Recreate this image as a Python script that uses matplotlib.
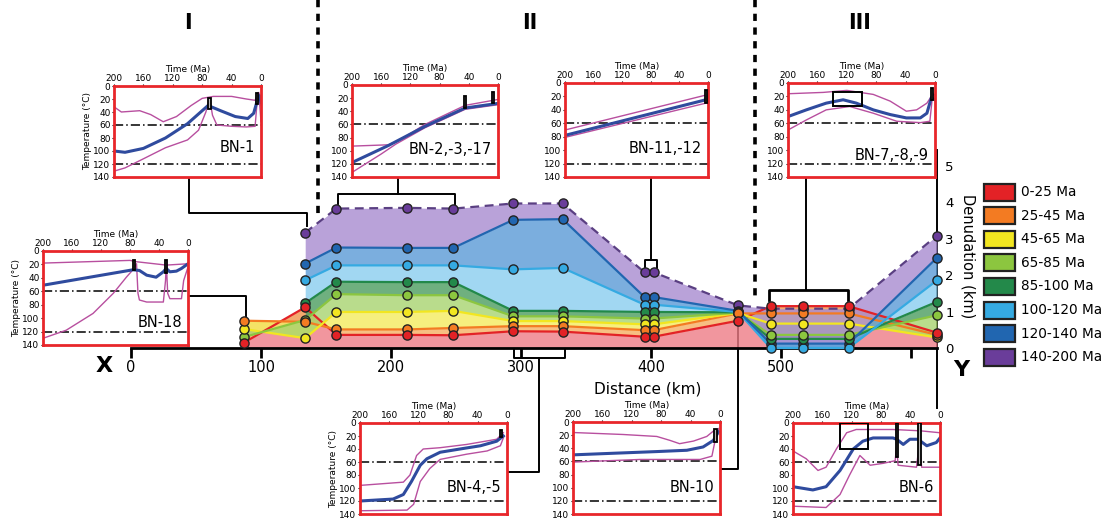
import numpy as np
import matplotlib
matplotlib.use('Agg')
import matplotlib.pyplot as plt
from matplotlib.patches import Rectangle

W, H = 1117, 520
nan = np.nan

# ---- denudation profile (km) along the section
dist_km = [87, 134, 158, 212, 248, 294, 332, 395, 402, 467, 492, 517, 552, 620]
den_0_25 = [0.15, 1.12, 0.36, 0.36, 0.35, 0.46, 0.45, 0.31, 0.31, 0.75, 1.15, 1.15, 1.15, 0.42]
den_25_45 = [0.75, 0.72, 0.51, 0.51, 0.55, 0.60, 0.60, 0.49, 0.49, 0.95, 0.95, 0.95, 0.95, 0.36]
den_45_65 = [0.52, 0.27, 0.99, 0.99, 1.02, 0.74, 0.74, 0.65, 0.65, 0.96, 0.67, 0.67, 0.67, 0.29]
den_65_85 = [0.30, 0.77, 1.48, 1.45, 1.45, 0.87, 0.87, 0.81, 0.81, 0.97, 0.36, 0.36, 0.36, 0.90]
den_85_100 = [nan, 1.23, 1.82, 1.81, 1.81, 1.02, 1.02, 0.99, 0.99, 0.98, 0.25, 0.25, 0.25, 1.27]
den_100_120 = [nan, 1.86, 2.27, 2.27, 2.27, 2.16, 2.20, 1.19, 1.19, 0.99, 0.00, 0.00, 0.00, 1.86]
den_120_140 = [nan, 2.32, 2.76, 2.75, 2.75, 3.52, 3.54, 1.40, 1.40, 1.02, 0.12, 0.12, 0.12, 2.48]
den_140_200 = [nan, 3.17, 3.83, 3.85, 3.83, 3.97, 3.97, 2.08, 2.08, 1.17, 1.08, 1.08, 1.08, 3.09]

age_labels = ['0-25 Ma', '25-45 Ma', '45-65 Ma', '65-85 Ma',
              '85-100 Ma', '100-120 Ma', '120-140 Ma', '140-200 Ma']
line_cols = ['#e32226', '#f37b22', '#f2e620', '#8cc63f', '#23894a', '#35aae2', '#2166b0', '#6a3d9a']
fill_cols = ['#ee7c86', '#f6b063', '#f4ec5e', '#a8d46f', '#4b9c5f', '#8acdef', '#5a9ad6', '#a88bd0']

xticks_km = [0, 100, 200, 300, 400, 500, 600]
xtick_lab = ['0', '100', '200', '300', '400', '500', '']

# ---- thermal histories (time Ma, temperature C)
bn1_blue = [(200, 100), (185, 102), (160, 96), (130, 80), (100, 58), (72, 30), (55, 38), (35, 47),
            (18, 50), (10, 42), (5, 22), (2, 15), (0, 25)]
bn1_up = [(200, 32), (190, 40), (165, 38), (150, 44), (133, 55), (115, 47), (95, 30), (80, 19),
          (65, 16), (40, 16), (20, 20), (8, 22), (4, 10), (1, 15), (0, 30)]
bn1_lo = [(200, 131), (185, 126), (160, 112), (130, 95), (100, 83), (85, 68), (75, 40), (70, 18),
          (66, 45), (60, 60), (40, 62), (20, 63), (8, 62), (5, 20), (3, 10), (1, 40), (0, 55)]
bn1_bars = [(70, 18, 36), (5, 10, 28)]

bn2_blue = [(200, 118), (150, 92), (100, 63), (45, 35), (0, 28)]
bn2_up = [(200, 93), (150, 91), (135, 84), (100, 60), (45, 31), (0, 22)]
bn2_lo = [(200, 133), (160, 105), (140, 90), (100, 65), (45, 37), (0, 30)]
bn2_bars = [(45, 17, 35), (7, 10, 28)]

bn11_blue = [(200, 78), (3, 25)]
bn11_up = [(200, 70), (3, 18)]
bn11_lo = [(200, 81), (3, 30)]
bn11_bars = [(3, 10, 30)]

bn7_blue = [(200, 50), (175, 40), (148, 30), (125, 25), (107, 30), (84, 40), (61, 47), (39, 52),
            (20, 52), (11, 45), (5, 22), (0, 25)]
bn7_up = [(200, 16), (152, 14), (120, 11), (84, 17), (61, 27), (39, 42), (25, 40), (11, 30), (5, 20), (0, 17)]
bn7_lo = [(200, 70), (175, 55), (148, 40), (116, 35), (84, 45), (52, 57), (20, 59), (7, 57), (3, 15), (0, 22)]
bn7_bars = [(4, 8, 25)]
bn7_box = [(99, 139, 14, 34)]

bn18_blue = [(200, 51), (76, 28), (67, 29), (57, 36), (44, 39), (34, 31), (30, 26), (25, 31),
             (16, 30), (9, 26), (0, 19)]
bn18_up = [(200, 18), (80, 14), (71, 16), (30, 21), (0, 19)]
bn18_lo = [(200, 130), (168, 118), (131, 93), (103, 63), (85, 39), (76, 28), (71, 19), (69, 63),
           (67, 73), (57, 76), (34, 76), (31, 44), (30, 16), (28, 63), (25, 71), (9, 71), (6, 44), (0, 24)]
bn18_bars = [(74, 14, 29), (30, 13, 33)]

bn4_blue = [(200, 120), (155, 117), (141, 110), (130, 90), (118, 65), (109, 55), (91, 45), (64, 40),
            (36, 35), (14, 28), (5, 20)]
bn4_up = [(200, 96), (141, 91), (132, 80), (123, 50), (114, 40), (91, 38), (55, 33), (14, 25), (5, 15)]
bn4_lo = [(200, 135), (136, 134), (127, 125), (118, 90), (105, 70), (91, 56), (55, 48), (27, 43), (9, 35), (4, 20)]
bn4_bars = [(8, 10, 22)]

bn10_blue = [(200, 50), (155, 48), (86, 45), (45, 43), (23, 38), (9, 28), (2, 15)]
bn10_up = [(200, 16), (132, 19), (86, 22), (68, 28), (55, 33), (36, 29), (18, 22), (7, 12)]
bn10_lo = [(200, 61), (109, 57), (27, 57), (11, 52), (7, 30), (2, 10)]
bn10_bars = [(6, 10, 30)]

bn6_blue = [(200, 98), (173, 103), (155, 98), (136, 73), (118, 40), (105, 28), (91, 23), (64, 23),
            (59, 25), (50, 33), (41, 25), (30, 25), (18, 35), (5, 30), (0, 23)]
bn6_up = [(200, 43), (182, 55), (166, 73), (155, 68), (141, 40), (127, 15), (114, 10), (64, 10), (27, 12), (0, 15)]
bn6_lo = [(200, 128), (155, 130), (136, 110), (123, 80), (109, 50), (95, 65), (77, 62), (61, 58), (59, 35),
          (57, 65), (32, 68), (28, 30), (25, 68), (0, 68)]
bn6_bars = [(59, 0, 52), (28, 0, 65)]
bn6_box = [(98, 136, 0, 40)]

time_ticks = [200, 160, 120, 80, 40, 0]
temp_ticks = [0, 20, 40, 60, 80, 100, 120, 140]

fig = plt.figure(figsize=(W / 100, H / 100), dpi=100)

# overlay in pixel coordinates for annotations
ov = fig.add_axes([0, 0, 1, 1])
ov.set_xlim(0, W)
ov.set_ylim(H, 0)
ov.axis('off')
ov.set_zorder(0)

# ---- main section
ax = fig.add_axes([131 / W, 1 - 348 / H, (937 - 131) / W, (348 - 166) / H])
ax.set_zorder(1)
ax.patch.set_alpha(0)
ax.set_xlim(0, 620)
ax.set_ylim(0, 5)
for s in ['top', 'left', 'right']:
    ax.spines[s].set_visible(False)
ax.spines['bottom'].set_linewidth(2)
ax.set_xticks(xticks_km)
ax.set_xticklabels(xtick_lab)
ax.tick_params(axis='x', direction='out', length=7, width=2, labelsize=10.5, pad=2)
ax.yaxis.tick_right()
ax.set_yticks(range(6))
ax.tick_params(axis='y', length=0, pad=6, labelsize=9.5)

series = [den_0_25, den_25_45, den_45_65, den_65_85, den_85_100, den_100_120, den_120_140, den_140_200]
x = np.array(dist_km, dtype=float)
prev = np.zeros(len(x))
for i, s in enumerate(series):
    s = np.array(s, dtype=float)
    ax.fill_between(x, prev, s, color=fill_cols[i], alpha=0.8, lw=0, zorder=1)
    prev = s
for i, s in enumerate(series):
    if i == 7:
        ax.plot(x, s, color='#5a3f82', lw=1.6, ls=(0, (4, 2.5)), zorder=3, clip_on=False)
    else:
        ax.plot(x, s, color=line_cols[i], lw=1.6, zorder=3, clip_on=False)
for i, s in enumerate(series):
    ax.plot(x, s, 'o', ms=6.6, mfc=line_cols[i], mec='#222222', mew=1.0, zorder=4 + (7 - i) * 0.01,
            clip_on=False, ls='none')

# ---- annotations
ov.text(648, 389, 'Distance (km)', fontsize=11, ha='center', va='center')
ov.text(104, 366, 'X', fontsize=16, fontweight='bold', ha='center', va='center')
ov.text(961, 370, 'Y', fontsize=16, fontweight='bold', ha='center', va='center')
ov.text(968, 256, 'Denudation (km)', fontsize=10.5, rotation=-90, ha='center', va='center')
for lab, px in [('I', 188), ('II', 530), ('III', 860)]:
    ov.text(px, 23, lab, fontsize=15, fontweight='bold', ha='center', va='center')
ov.plot([318, 318], [0, 215], color='k', lw=2.6, linestyle='--', dashes=(2.0, 1.8))
ov.plot([755, 755], [0, 298], color='k', lw=2.6, linestyle='--', dashes=(2.0, 1.8))
ov.plot([937, 937], [150, 408], color='k', lw=1.4)

conn = dict(color='k', lw=1.4)
ov.plot([189, 189, 307, 307], [177, 213, 213, 226], **conn)
ov.plot([398, 398], [177, 194], **conn)
ov.plot([338, 338, 455, 455], [204, 194, 194, 204], **conn)
ov.plot([651, 651], [177, 260], **conn)
ov.plot([645, 645, 657, 657], [268, 260, 260, 268], **conn)
ov.plot([806, 806], [177, 290], **conn)
ov.plot([769, 769, 848, 848], [300, 290, 290, 300], color='k', lw=2)
ov.plot([190, 246, 246], [296, 296, 316], **conn)
ov.plot([514, 514, 565, 565], [350, 358, 358, 350], **conn)
ov.plot([539, 539, 507], [358, 472, 472], **conn)
ov.plot([738, 738, 720], [325, 469, 469], **conn)

# legend
for i, lab in enumerate(age_labels):
    yc = 192 + i * 23.6
    ov.add_patch(Rectangle((984, yc - 8.5), 31, 17, facecolor=line_cols[i], edgecolor='#222222', lw=1.6))
    ov.text(1021, yc, lab, fontsize=9.8, ha='left', va='center')


def inset(px, blue, up, lo, bars, boxes, label, lab_T, ylabel):
    x0, y0, x1, y1 = px
    a = fig.add_axes([x0 / W, 1 - y1 / H, (x1 - x0) / W, (y1 - y0) / H])
    a.set_zorder(2)
    a.set_xlim(200, 0)
    a.set_ylim(140, 0)
    a.xaxis.tick_top()
    a.xaxis.set_label_position('top')
    a.set_xticks(time_ticks)
    a.set_yticks(temp_ticks)
    a.tick_params(length=1.5, labelsize=6.5, pad=1)
    a.set_xlabel('Time (Ma)', fontsize=6.5, labelpad=1)
    if ylabel:
        a.set_ylabel('Temperature (°C)', fontsize=6.5, labelpad=1)
    for s in a.spines.values():
        s.set_color('#e8262a')
        s.set_linewidth(2)
    for T in (60, 120):
        a.axhline(T, color='k', lw=1.1, ls=(0, (6, 2, 1, 2)))
    for c in (up, lo):
        t, T = zip(*c)
        a.plot(t, T, color='#b84f9f', lw=1.0)
    t, T = zip(*blue)
    a.plot(t, T, color='#2f4b9e', lw=2.2)
    for tb, T0, T1 in bars:
        a.add_patch(Rectangle((tb - 1.5, T0), 3, T1 - T0, facecolor='#bbbbbb', edgecolor='k', lw=1.3, zorder=5))
    for ta, tb, T0, T1 in boxes:
        a.add_patch(Rectangle((ta, T0), tb - ta, T1 - T0, facecolor='none', edgecolor='k', lw=1.4, zorder=5))
    a.text(8, lab_T, label, fontsize=10.5, ha='right', va='center')


inset((114, 86, 261, 177), bn1_blue, bn1_up, bn1_lo, bn1_bars, [], 'BN-1', 95, True)
inset((352, 85, 498, 177), bn2_blue, bn2_up, bn2_lo, bn2_bars, [], 'BN-2,-3,-17', 98, False)
inset((565, 83, 708, 177), bn11_blue, bn11_up, bn11_lo, bn11_bars, [], 'BN-11,-12', 97, False)
inset((788, 83, 935, 177), bn7_blue, bn7_up, bn7_lo, bn7_bars, bn7_box, 'BN-7,-8,-9', 108, False)
inset((43, 251, 188, 345), bn18_blue, bn18_up, bn18_lo, bn18_bars, [], 'BN-18', 106, True)
inset((360, 423, 507, 514), bn4_blue, bn4_up, bn4_lo, bn4_bars, [], 'BN-4,-5', 99, True)
inset((573, 422, 720, 514), bn10_blue, bn10_up, bn10_lo, bn10_bars, [], 'BN-10', 100, False)
inset((793, 423, 940, 514), bn6_blue, bn6_up, bn6_lo, bn6_bars, bn6_box, 'BN-6', 99, False)

fig.savefig('out.png', dpi=100)
